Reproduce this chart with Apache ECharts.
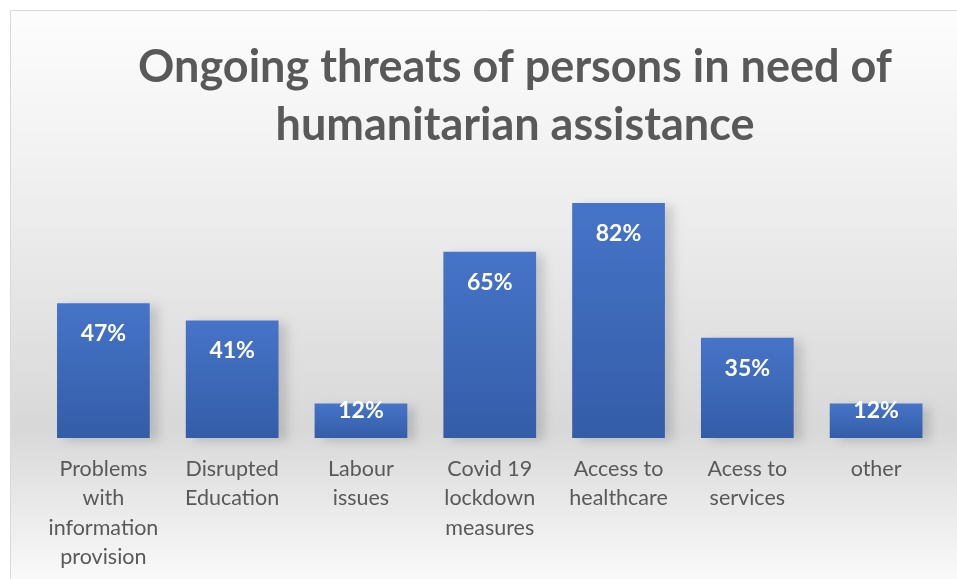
<!DOCTYPE html>
<html>
<head>
<meta charset="utf-8">
<script src="https://cdn.jsdelivr.net/npm/echarts@6/dist/echarts.min.js"></script>
<style>
html,body{margin:0;padding:0;background:#fff;}
#c{width:957px;height:579px;}
</style>
</head>
<body>
<div id="c"></div>
<script>
const titleText = 'Ongoing threats of persons in need of\nhumanitarian assistance';
const categories = ['Problems\nwith\ninformation\nprovision', 'Disrupted\nEducation', 'Labour\nissues', 'Covid 19\nlockdown\nmeasures', 'Access to\nhealthcare', 'Acess to\nservices', 'other'];
const values = [47, 41, 12, 65, 82, 35, 12];

const chart = echarts.init(document.getElementById('c'));
const seriesData = values.map(v => ({
  value: v,
  label: { distance: v < 20 ? -5 : 19 }
}));
chart.setOption({
  animation: false,
  backgroundColor: '#ffffff',
  graphic: [{
    type: 'rect',
    z: -10,
    silent: true,
    shape: { x: 10.5, y: 10.5, width: 960, height: 580 },
    style: {
      fill: new echarts.graphic.LinearGradient(0, 0, 0, 1, [
        { offset: 0, color: '#fdfdfd' },
        { offset: 0.35, color: '#ededed' },
        { offset: 0.72, color: '#d8d8d8' },
        { offset: 1, color: '#fcfcfc' }
      ]),
      stroke: '#d9d9d9',
      lineWidth: 1
    }
  }],
  title: {
    text: titleText,
    left: 510,
    textAlign: 'center',
    top: 33,
    textStyle: {
      fontFamily: 'Lato',
      fontWeight: 'bold',
      fontSize: 45,
      lineHeight: 58,
      color: '#595959'
    }
  },
  grid: { left: 39, right: 16.5, top: 151.4, bottom: 141, containLabel: false },
  xAxis: {
    type: 'category',
    data: categories,
    axisLine: { show: false },
    axisTick: { show: false },
    axisLabel: {
      interval: 0,
      margin: 16,
      fontFamily: 'Lato',
      fontSize: 21.5,
      lineHeight: 29.5,
      color: '#595959'
    }
  },
  yAxis: {
    type: 'value',
    min: 0,
    max: 100,
    show: false,
    splitLine: { show: false }
  },
  series: [{
    type: 'bar',
    data: seriesData,
    barCategoryGap: '28%',
    itemStyle: {
      color: new echarts.graphic.LinearGradient(0, 0, 0, 1, [
        { offset: 0, color: '#4674c8' },
        { offset: 1, color: '#345da8' }
      ]),
      shadowColor: 'rgba(0,0,0,0.15)',
      shadowBlur: 10,
      shadowOffsetX: 8,
      shadowOffsetY: 3
    },
    label: {
      show: true,
      position: 'insideTop',
      formatter: '{c}%',
      fontFamily: 'Lato',
      fontWeight: 'bold',
      fontSize: 23,
      color: '#ffffff'
    }
  }]
});
</script>
</body>
</html>
